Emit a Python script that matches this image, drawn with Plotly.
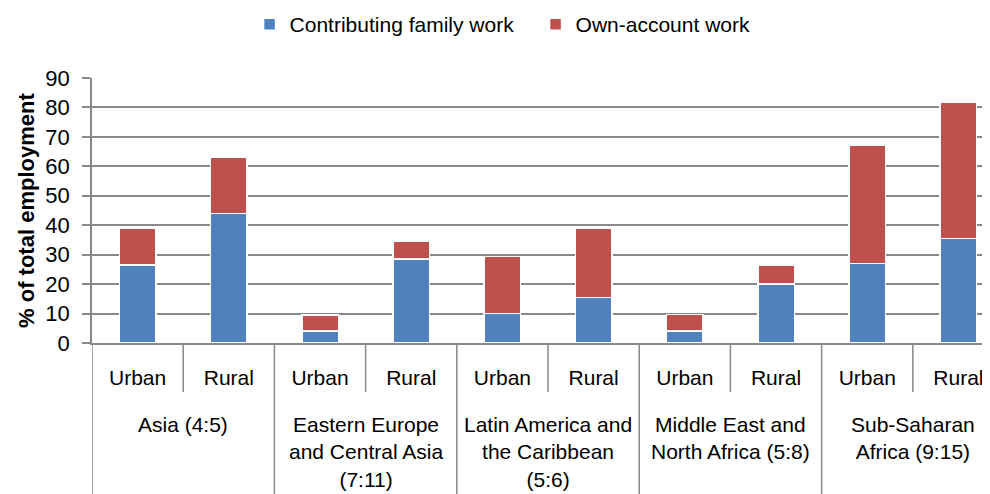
import plotly.graph_objects as go

# data
areas = ["Urban", "Rural"] * 5
region_names = ["Asia (4:5)",
                "Eastern Europe<br>and Central Asia<br>(7:11)",
                "Latin America and<br>the Caribbean<br>(5:6)",
                "Middle East and<br>North Africa (5:8)",
                "Sub-Saharan<br>Africa (9:15)"]

family_work = [26.5, 44.0, 4.0, 28.5, 10.0, 15.5, 4.0, 20.0, 27.0, 35.5]
own_account = [12.5, 19.0, 5.5, 6.2, 19.3, 23.4, 5.7, 6.5, 40.3, 46.3]

FONT = "Liberation Sans, Arial, sans-serif"
GRID = "#898989"

xpos = list(range(len(areas)))

fig = go.Figure()
fig.add_trace(go.Bar(x=xpos, y=family_work, name="Contributing family work",
                     marker=dict(color="#4f81bd", line=dict(color="white", width=1.5))))
fig.add_trace(go.Bar(x=xpos, y=own_account, name="Own-account work",
                     marker=dict(color="#c0504d", line=dict(color="white", width=1.5))))

# axis dividers below the plot: short ones between Urban/Rural, long ones between regions
shapes = []
for i in range(len(areas)):
    b = i - 0.5
    long_line = (i % 2 == 0)
    shapes.append(dict(type="line", xref="x", yref="paper", x0=b, x1=b,
                       y0=0, y1=-0.6 if long_line else -0.185,
                       line=dict(color=GRID, width=1.5)))

annotations = []
for k, name in enumerate(region_names):
    annotations.append(dict(x=2 * k + 0.5, y=-0.255, xref="x", yref="paper",
                            text=name, showarrow=False, xanchor="center", yanchor="top",
                            font=dict(size=21)))
annotations.append(dict(x=-0.073, y=0.5, xref="paper", yref="paper",
                        text="<b>% of total employment</b>", textangle=-90,
                        showarrow=False, xanchor="center", yanchor="middle",
                        font=dict(size=22)))

# the page body adds an 8px margin, so the figure is sized/offset for that
fig.update_layout(
    barmode="stack",
    bargap=0.6,
    width=982, height=486,
    margin=dict(l=84, r=0, t=70, b=151),
    plot_bgcolor="white",
    paper_bgcolor="white",
    font=dict(family=FONT, size=21, color="black"),
    legend=dict(orientation="h", x=0.246, xanchor="left", y=0.966, yanchor="middle",
                yref="container", xref="container", font=dict(size=21), itemwidth=30,
                entrywidth=241, traceorder="normal"),
    shapes=shapes,
    annotations=annotations,
)
fig.update_yaxes(range=[0, 90], dtick=10, showgrid=True, gridcolor=GRID, gridwidth=1.5,
                 showline=True, linecolor=GRID, linewidth=1.5,
                 ticks="outside", ticklen=8, tickcolor=GRID, tickwidth=1.5,
                 ticklabelstandoff=8,
                 tickfont=dict(size=22), zeroline=False, automargin=False)
# the original chart runs past the right edge of the picture
fig.update_xaxes(range=[-0.5, 9.346], tickvals=xpos, ticktext=areas,
                 showline=True, linecolor=GRID, linewidth=1.5, showgrid=False,
                 ticks="", ticklabelstandoff=15, tickfont=dict(size=21),
                 zeroline=False, automargin=False)

fig.write_html("out.html")
